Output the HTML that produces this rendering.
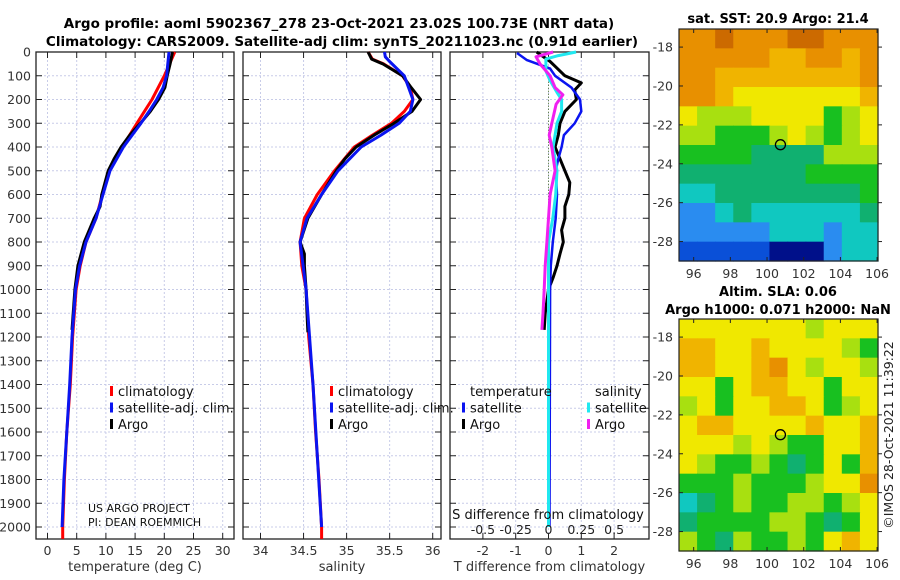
<!DOCTYPE html>
<html><head><meta charset="utf-8">
<style>
body{margin:0;background:#fff;width:900px;height:580px;overflow:hidden}
svg{display:block;font-family:"DejaVu Sans","Liberation Sans",sans-serif}
</style></head>
<body>
<svg id="fig" width="900" height="580" viewBox="0 0 900 580">
<text x="339" y="28" font-size="13.5" font-weight="bold" text-anchor="middle">Argo profile: aoml 5902367_278 23-Oct-2021 23.02S 100.73E (NRT data)</text>
<text x="342" y="46" font-size="13.5" font-weight="bold" text-anchor="middle">Climatology: CARS2009. Satellite-adj clim: synTS_20211023.nc (0.91d earlier)</text>
<text x="778" y="23" font-size="13" font-weight="bold" text-anchor="middle">sat. SST: 20.9 Argo: 21.4</text>
<text x="778" y="296" font-size="13" font-weight="bold" text-anchor="middle">Altim. SLA: 0.06</text>
<text x="778" y="314" font-size="13" font-weight="bold" text-anchor="middle">Argo h1000: 0.071 h2000: NaN</text>
<text transform="translate(893,435) rotate(-90)" font-size="12.5" text-anchor="middle" fill="#222">©IMOS 28-Oct-2021 11:39:22</text>
</svg>
<script>
// ---- profile data ----
const depthTclim=[0,100,200,250,300,400,500,600,700,800,900,1000,1200,1400,1600,1800,2000,2050];
const tempClim=[21.8,20.0,17.9,16.6,15.3,12.8,10.6,9.4,8.3,6.6,5.6,4.9,4.3,3.9,3.3,2.9,2.6,2.6];
const depthTsat=[0,100,150,200,250,300,400,500,600,700,800,900,1000,1200,1400,1600,1800,2000];
const tempSat=[20.8,20.4,19.8,18.7,17.4,16.0,13.0,10.7,9.5,8.3,6.6,5.5,4.8,4.2,3.8,3.3,2.8,2.5];
const depthArgo=[0,50,100,150,200,250,300,350,400,450,500,600,650,700,800,900,1000,1100,1170];
const tempArgo=[21.4,21.0,20.5,20.1,19.0,17.6,15.9,14.1,12.6,11.4,10.4,9.3,9.0,8.0,6.3,5.2,4.7,4.4,4.2];
const depthSArgo=[0,30,50,100,150,200,250,300,350,400,450,500,600,700,800,850,900,1000,1100,1180];
const salArgo=[35.25,35.29,35.42,35.65,35.75,35.86,35.76,35.55,35.32,35.11,34.98,34.88,34.71,34.55,34.46,34.51,34.51,34.53,34.54,34.55];
const depthSClim=[0,30,50,100,150,200,250,300,350,400,500,600,700,800,900,1000,1200,1400,1600,1800,2000,2050];
const salClim=[35.25,35.30,35.43,35.65,35.74,35.77,35.67,35.52,35.30,35.09,34.86,34.66,34.51,34.46,34.48,34.53,34.56,34.61,34.64,34.68,34.71,34.71];
const depthSSat=[0,20,40,100,150,200,250,300,350,400,500,600,700,800,1000,1400,2000];
const salSat=[35.44,35.45,35.50,35.67,35.72,35.77,35.74,35.61,35.40,35.17,34.90,34.71,34.54,34.46,34.53,34.61,34.71];
// difference panel
const depthDT=[4,34,70,100,150,200,250,300,350,400,450,500,600,700,800,900,1000,1500,2000];
const dTsat=[-0.96,-0.66,0.05,0.2,0.7,0.96,1.0,0.8,0.47,0.4,0.3,0.22,0.26,0.22,0.13,0.07,0.05,0.04,0.03];
const depthDTA=[0,40,60,100,130,160,200,250,300,350,400,450,500,550,600,650,700,750,800,850,900,950,1000,1100,1170];
const dTargo=[-0.36,0.05,0.2,0.5,1.0,0.8,0.85,0.5,0.35,0.3,0.2,0.35,0.5,0.65,0.62,0.5,0.5,0.4,0.45,0.35,0.26,0.14,0,-0.1,-0.13];
const depthDS=[0,15,30,80,120,170,200,250,300,400,500,600,700,800,1000,2000];
const dSsat=[0.21,0.075,-0.02,-0.02,0.012,0.065,0.1,0.1,0.065,0.035,0.065,0.055,0.033,0,0,0];
const depthDSA=[0,20,50,100,150,180,220,300,350,400,500,600,700,800,900,1000,1100,1170];
const dSargo=[0.035,-0.095,-0.065,0.012,0.05,0.11,0.058,0.025,0.005,0.025,0.05,0.012,0,-0.012,-0.025,-0.033,-0.042,-0.05];
const depthTicks=[0,100,200,300,400,500,600,700,800,900,1000,1100,1200,1300,1400,1500,1600,1700,1800,1900,2000];
const tTicks=[0,5,10,15,20,25,30];
const sTicks=[34,34.5,35,35.5,36];
const dTicks=[-2,-1,0,1,2];
const dsTicks=[-0.5,-0.25,0,0.25,0.5];
const dsLabels=["-0.5","-0.25","0","0.25","0.5"];
// maps (rows lat -17..-29, cols lon 95.2..106) colour index
const sstGrid=[
[9,9,10,9,9,9,10,10,9,9,9],[9,9,9,9,9,8,8,9,9,8,9],[9,9,8,8,8,8,8,8,8,8,9],[9,9,8,7,7,7,7,7,7,7,8],
[7,6,6,6,7,7,7,7,5,6,7],[6,6,5,5,5,6,7,6,5,6,7],[5,5,5,5,4,4,4,4,6,6,6],[4,4,4,4,4,4,4,5,5,5,5],
[3,3,4,4,4,4,4,4,4,4,5],[2,2,3,4,3,3,3,3,3,3,4],[2,2,2,2,2,3,3,3,2,3,3],[1,1,1,1,1,0,0,0,2,3,3]];
const slaGrid=[
[7,7,7,7,7,7,7,6,7,7,7],[8,8,7,7,8,7,7,7,7,6,5],[8,8,7,7,8,9,7,6,7,7,6],[7,7,5,7,8,8,7,7,5,7,7],
[6,7,5,7,7,8,8,7,5,6,7],[7,8,8,7,7,7,7,8,7,7,8],[7,7,7,6,7,6,5,5,7,7,8],[7,6,5,5,6,5,4,5,7,5,8],
[5,5,5,6,5,5,5,6,7,7,9],[3,4,5,6,5,5,6,6,5,6,7],[4,5,5,5,5,6,6,5,4,5,7],[6,5,4,6,5,5,6,5,7,8,7]];
const cmap=["#00108a","#0a50d8","#2a8cf0","#10c8c0","#10b070","#18c020","#a8e010","#f0e800","#f0b400","#e89000","#cc6a00"];
const lonTicks=[96,98,100,102,104,106];
const latTicks=[-18,-20,-22,-24,-26,-28];
const argoLon=100.73, argoLat=-23.02;

const NS="http://www.w3.org/2000/svg";
const fig=document.getElementById('fig');
function mk(tag,attrs,parent){const e=document.createElementNS(NS,tag);for(const k in attrs)e.setAttribute(k,attrs[k]);(parent||fig).appendChild(e);return e;}
const Y0=52,Y1=539;
const yD=d=>Y0+(d-0)*(527-52)/2000;
function lin(d0,d1,p0,p1){return v=>p0+(v-d0)*(p1-p0)/(d1-d0);}
const panels=[
 {x0:36,x1:234,f:lin(0,30,47.5,222.7),ticks:tTicks,labels:tTicks.map(String),name:'temperature-panel',title:'temperature (deg C)'},
 {x0:243,x1:441,f:lin(34,36,260.5,432.7),ticks:sTicks,labels:sTicks.map(String),name:'salinity-panel',title:'salinity'},
 {x0:450,x1:649,f:lin(0,2,548.5,614.1),ticks:dTicks,labels:dTicks.map(String),name:'difference-panel',title:'T difference from climatology'}];
const fS=lin(0,0.5,548.5,614.1);
panels.forEach((p,i)=>{
  const g=mk('g',{});
  
  
  depthTicks.forEach(d=>{const l=mk('line',{x1:p.x0,x2:p.x1,y1:yD(d),y2:yD(d),stroke:'#c8cce8','stroke-width':1,'stroke-dasharray':'2,2'},g);
    
    mk('line',{x1:p.x0,x2:p.x0+6,y1:yD(d),y2:yD(d),stroke:'#222'},g);mk('line',{x1:p.x1-6,x2:p.x1,y1:yD(d),y2:yD(d),stroke:'#222'},g);});
  p.ticks.forEach((t,j)=>{const x=p.f(t);
    const l=mk('line',{x1:x,x2:x,y1:Y0,y2:Y1,stroke:'#c8cce8','stroke-dasharray':'2,2'},g);
    
    mk('line',{x1:x,x2:x,y1:Y0,y2:Y0+6,stroke:'#222'},g);mk('line',{x1:x,x2:x,y1:Y1-6,y2:Y1,stroke:'#222'},g);
    const tx=mk('text',{x:x,y:555,'font-size':12.5,'text-anchor':'middle',fill:'#333'},g);tx.textContent=p.labels[j];
    });
  const r=mk('rect',{x:p.x0,y:Y0,width:p.x1-p.x0,height:Y1-Y0,fill:'none',stroke:'#222','stroke-width':1.3},g);
  
  const tt=mk('text',{x:(p.x0+p.x1)/2,y:571,'font-size':13,'text-anchor':'middle',fill:'#333'},g);tt.textContent=p.title;
  
});
depthTicks.forEach(d=>{const t=mk('text',{x:31,y:yD(d)+4.5,'font-size':12.5,'text-anchor':'end',fill:'#333'});t.textContent=d;
  });
// zero line in diff panel
const zl=mk('line',{x1:fS(0),x2:fS(0),y1:yD(100),y2:yD(1000),stroke:'#446622','stroke-width':1,'stroke-dasharray':'1,2'});

function line(xs,ds,fx,color,name,w){
  const pts=xs.map((v,i)=>fx(v).toFixed(1)+','+yD(ds[i]).toFixed(1)).join(' ');
  const pl=mk('polyline',{points:pts,fill:'none',stroke:color,'stroke-width':w||3,'stroke-linejoin':'round'});
  
}
const fT=panels[0].f,fSal=panels[1].f,fD=panels[2].f;
line(tempClim,depthTclim,fT,'#f00','temp-climatology-line');
line(tempArgo,depthArgo,fT,'#000','temp-argo-line');
line(tempSat,depthTsat,fT,'#0a14f0','temp-satellite-line');
line(salClim,depthSClim,fSal,'#f00','sal-climatology-line');
line(salArgo,depthSArgo,fSal,'#000','sal-argo-line');
line(salSat,depthSSat,fSal,'#0a14f0','sal-satellite-line');
line(dTargo,depthDTA,fD,'#000','dT-argo-line');
line(dTsat,depthDT,fD,'#0a14f0','dT-satellite-line',2.5);
line(dSsat,depthDS,fS,'#20e8f0','dS-satellite-line');
line(dSargo,depthDSA,fS,'#f020f0','dS-argo-line');
// S tick labels
dsTicks.forEach((t,j)=>{const tx=mk('text',{x:fS(t),y:534,'font-size':12.5,'text-anchor':'middle',fill:'#222'});tx.textContent=dsLabels[j];
  });
function txt(x,y,s,name,size,anchor){const t=mk('text',{x:x,y:y,'font-size':size||13,'text-anchor':anchor||'start',fill:'#111'});t.textContent=s;
  return t;}
txt(548,519,'S difference from climatology','s-diff-axis-title',13,'middle');
txt(88,512,'US ARGO PROJECT','project-label',11);
txt(88,526,'PI: DEAN ROEMMICH','pi-label',11);
function leg(x,y,color,label,name){const l=mk('rect',{x:x,y:y-10,width:3,height:10,fill:color});
  txt(x+8,y,label,name,13);}
[[110,'#f00','climatology'],[110,'#0a14f0','satellite-adj. clim.'],[110,'#000','Argo']].forEach((e,i)=>leg(e[0],396+i*16.5,e[1],e[2],'legend-entry'));
[[330,'#f00','climatology'],[330,'#0a14f0','satellite-adj. clim.'],[330,'#000','Argo']].forEach((e,i)=>leg(e[0],396+i*16.5,e[1],e[2],'legend-entry'));
txt(470,396,'temperature','legend-temperature-heading',13);
leg(462,412.5,'#0a14f0','satellite','legend-entry');leg(462,429,'#000','Argo','legend-entry');
txt(595,396,'salinity','legend-salinity-heading',13);
leg(587,412.5,'#20e8f0','satellite','legend-entry');leg(587,429,'#f020f0','Argo','legend-entry');
// maps
function drawMap(grid,y0,y1,name,latTop,latBot){
  const x0=679,x1=878,lon0=95.2,lon1=106.05;
  const fx=lin(lon0,lon1,x0,x1), fy=lin(latTop,latBot,y0,y1);
  const g=mk('g',{});
  const nr=grid.length,nc=grid[0].length;
  const cw=(x1-x0)/nc,ch=(y1-y0)/nr;
  grid.forEach((row,r)=>row.forEach((v,c)=>{const re=mk('rect',{x:x0+c*cw,y:y0+r*ch,width:cw+0.6,height:ch+0.6,fill:cmap[v]},g);
    }));
  mk('rect',{x:x0,y:y0,width:x1-x0,height:y1-y0,fill:'none',stroke:'#222','stroke-width':1.2},g);
  lonTicks.forEach(l=>{const x=fx(l);mk('line',{x1:x,x2:x,y1:y1,y2:y1-4,stroke:'#222'},g);mk('line',{x1:x,x2:x,y1:y0,y2:y0+4,stroke:'#222'},g);
    const t=mk('text',{x:x,y:y1+17,'font-size':12.5,'text-anchor':'middle',fill:'#333'},g);t.textContent=l;
    });
  latTicks.forEach(l=>{const y=fy(l);mk('line',{x1:x0,x2:x0+4,y1:y,y2:y,stroke:'#222'},g);mk('line',{x1:x1,x2:x1+4,y1:y,y2:y,stroke:'#222'},g);
    const t=mk('text',{x:x0-6,y:y+4.5,'font-size':12.5,'text-anchor':'end',fill:'#333'},g);t.textContent=l;
    });
  const c=mk('circle',{cx:fx(argoLon),cy:fy(argoLat),r:5,fill:'none',stroke:'#000','stroke-width':1.3},g);
  
}
drawMap(sstGrid,29,261,'sst-map',-17.07,-29.0);
drawMap(slaGrid,319,551,'sla-map',-17.07,-29.0);
</script>
</body></html>
